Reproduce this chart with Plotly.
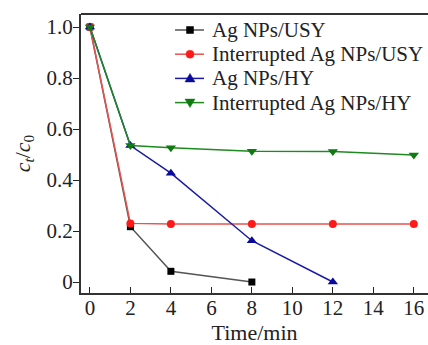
import plotly.graph_objects as go

names = ["Ag NPs/USY", "Interrupted Ag NPs/USY", "Ag NPs/HY", "Interrupted Ag NPs/HY"]
t_usy = [0, 2, 4, 8]
y_usy = [1.0, 0.217, 0.042, 0.0]
t_iusy = [0, 2, 4, 8, 12, 16]
y_iusy = [1.0, 0.230, 0.228, 0.228, 0.228, 0.228]
t_hy = [0, 2, 4, 8, 12]
y_hy = [1.0, 0.535, 0.427, 0.162, 0.0]
t_ihy = [0, 2, 4, 8, 12, 16]
y_ihy = [1.0, 0.535, 0.527, 0.513, 0.512, 0.498]

xticks = [0, 2, 4, 6, 8, 10, 12, 14, 16]
yticks = [0, 0.2, 0.4, 0.6, 0.8, 1.0]
ytext = ["0", "0.2", "0.4", "0.6", "0.8", "1.0"]

W, H = 428, 345
ML, MR, MT, MB = 81, 0, 14, 52
PW, PH = W - ML - MR, H - MT - MB


def px2x(px):
    return (px - ML) / PW


def py2y(py):
    return (H - MB - py) / PH


fig = go.Figure()
series = [
    (t_usy, y_usy, "#555555", "#000000", "square", 7),
    (t_iusy, y_iusy, "#e8534f", "#ff1a1a", "circle", 8),
    (t_hy, y_hy, "#1a1aa6", "#0a0a9a", "triangle-up", 9),
    (t_ihy, y_ihy, "#1f8a1f", "#0f7a0f", "triangle-down", 9),
]
for name, (x, y, lc, mc, sym, ms) in zip(names, series):
    fig.add_trace(go.Scatter(
        x=x, y=y, name=name, mode="lines+markers", showlegend=False,
        line=dict(color=lc, width=1.5),
        marker=dict(color=mc, symbol=sym, size=ms),
    ))

font = "Liberation Serif, Times New Roman, serif"

# hand-built legend (to match the compact row spacing of the original)
shapes = [dict(type="line", xref="paper", yref="paper", x0=0, x1=1, y0=1, y1=1,
               line=dict(color="#333333", width=2))]
annotations = []
row0, rowgap = 30, 24.2
key_x0, key_x1, key_mid, text_x = 175, 204, 190, 210
for i, (name, (x, y, lc, mc, sym, ms)) in enumerate(zip(names, series)):
    ry = py2y(row0 + rowgap * i)
    shapes.append(dict(type="line", xref="paper", yref="paper",
                       x0=px2x(key_x0), x1=px2x(key_x1), y0=ry, y1=ry,
                       line=dict(color=lc, width=1.5)))
    common = dict(xref="paper", yref="paper", xsizemode="pixel", ysizemode="pixel",
                  xanchor=px2x(key_mid), yanchor=ry,
                  fillcolor=mc, line=dict(color=mc, width=0.5))
    if sym == "square":
        shapes.append(dict(type="rect", x0=-3.5, x1=3.5, y0=-3.5, y1=3.5, **common))
    elif sym == "circle":
        shapes.append(dict(type="circle", x0=-4, x1=4, y0=-4, y1=4, **common))
    elif sym == "triangle-up":
        shapes.append(dict(type="path", path="M-5,-3.5 L5,-3.5 L0,5 Z", **common))
    else:
        shapes.append(dict(type="path", path="M-5,3.5 L5,3.5 L0,-5 Z", **common))
    annotations.append(dict(text=name, xref="paper", yref="paper",
                            x=px2x(text_x), y=ry, xanchor="left", yanchor="middle",
                            showarrow=False, font=dict(family=font, size=21, color="#222222")))

fig.update_layout(
    width=W, height=H,
    margin=dict(l=ML, r=MR, t=MT, b=MB, autoexpand=False),
    paper_bgcolor="white", plot_bgcolor="white",
    font=dict(family=font, size=21, color="#222222"),
    showlegend=False,
    xaxis=dict(range=[-0.44, 16.7], tickvals=xticks, ticks="inside",
               ticklen=6, tickwidth=1.2, tickcolor="#222222",
               showline=True, linecolor="#333333", linewidth=2,
               showgrid=False, zeroline=False, automargin=False,
               ticklabelstandoff=-5,
               title=dict(text="Time/min", font=dict(size=22), standoff=15)),
    yaxis=dict(range=[-0.043, 1.051], tickvals=yticks, ticktext=ytext,
               ticks="outside", ticklen=6, tickwidth=1.2, tickcolor="#222222",
               showline=True, linecolor="#333333", linewidth=2,
               showgrid=False, zeroline=False, automargin=False,
               ticklabelstandoff=-4,
               title=dict(text="<i>c</i><sub><i>t</i></sub>/<i>c</i><sub>0</sub>",
                          font=dict(size=22), standoff=10)),
    shapes=shapes,
    annotations=annotations,
)
fig.write_html("out.html", config={"displayModeBar": False},
               post_script="document.body.style.margin='0';document.body.style.overflow='hidden';")
